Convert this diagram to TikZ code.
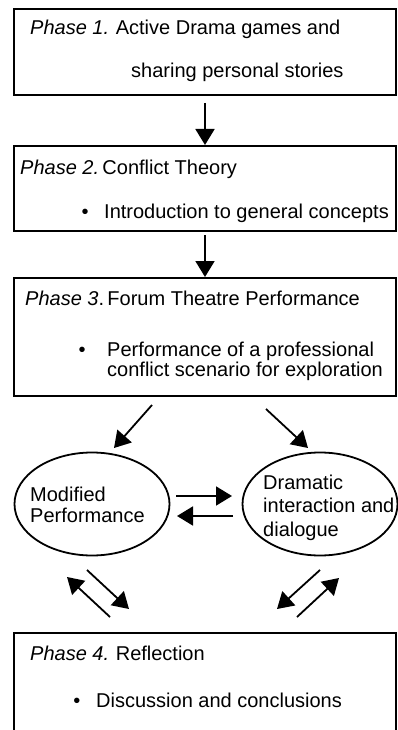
\documentclass[tikz,border=0pt]{standalone}
\usepackage{fontspec}
\setmainfont{Liberation Sans}
\usetikzlibrary{arrows.meta,shapes.geometric}
\tikzset{
  phasebox/.style={draw, line width=1.8pt, minimum width=382pt, anchor=north west, outer sep=0pt, inner sep=0pt},
  loopnode/.style={draw, ellipse, line width=1.8pt, minimum width=155pt, minimum height=103pt, inner sep=0pt},
  txt/.style={anchor=base west, inner sep=0pt},
  dot/.style={anchor=base, inner sep=0pt},
  flow/.style={-{Triangle[length=16pt,width=19pt]}, line width=1.8pt},
}

\begin{document}
\begin{tikzpicture}[x=1pt, y=-1pt, every node/.style={font=\fontsize{20}{23}\selectfont}]
  \useasboundingbox (0,0) rectangle (398,730);
  \clip (0,0) rectangle (398,730);

  % phases
  \node[phasebox, minimum height=86pt] (p1) at (14,9) {};
  \node[phasebox, minimum height=85pt] (p2) at (14,146) {};
  \node[phasebox, minimum height=118pt] (p3) at (14,278) {};
  \node[phasebox, minimum height=110pt] (p4) at (14,633) {};

  \node[txt] (t1a) at (30,35) {\textit{Phase 1.}\,\,Active Drama games and};
  \node[txt] (t1b) at (131,78) {sharing personal stories};
  \node[txt] (t2a) at (20,175) {\textit{Phase 2.}\,Conflict Theory};
  \node[dot] (b2) at (85,218) {\textbullet};
  \node[txt] (t2b) at (104,218) {Introduction to general concepts};
  \node[txt] (t3a) at (25,305) {\textit{Phase 3}.\,Forum Theatre Performance};
  \node[dot] (b3) at (82,356) {\textbullet};
  \node[txt] (t3b) at (107,356) {Performance of a professional};
  \node[txt] (t3c) at (107,376) {conflict scenario for exploration};
  \node[txt] (t4a) at (30,660) {\textit{Phase 4.}\,\,Reflection};
  \node[dot] (b4) at (77,707) {\textbullet};
  \node[txt] (t4b) at (96,707) {Discussion and conclusions};

  % loop between the two ellipses
  \node[loopnode] (mod) at (92,504) {};
  \node[loopnode] (dram) at (320,504) {};
  \node[txt] (modtxt) at (30,501) {Modified};
  \node[txt] (modtxt2) at (30,522) {Performance};
  \node[txt] (dramtxt) at (263,489) {Dramatic};
  \node[txt] (dramtxt2) at (263,512) {interaction and};
  \node[txt] (dramtxt3) at (263,536) {dialogue};

  \draw[flow, shorten <=8pt, shorten >=1pt] (p1) -- (p2);
  \draw[flow, shorten <=4pt, shorten >=1pt] (p2) -- (p3);

  \coordinate (a1) at (152,405);  \coordinate (m1) at (114,448);
  \coordinate (a2) at (266,409);  \coordinate (m2) at (308,448);
  \draw[flow] (a1) -- (m1);
  \draw[flow] (a2) -- (m2);

  \coordinate (h1) at (176,496);  \coordinate (h1e) at (232,496);
  \coordinate (h2) at (233,516);  \coordinate (h2e) at (177,516);
  \draw[flow] (h1) -- (h1e);
  \draw[flow] (h2) -- (h2e);

  \coordinate (l1) at (87,570);   \coordinate (l1e) at (129,609);
  \coordinate (l2) at (110,617);  \coordinate (l2e) at (67,577);
  \coordinate (r1) at (320,570);  \coordinate (r1e) at (277,609);
  \coordinate (r2) at (297,617);  \coordinate (r2e) at (339,578);
  \draw[flow] (l1) -- (l1e);
  \draw[flow] (l2) -- (l2e);
  \draw[flow] (r1) -- (r1e);
  \draw[flow] (r2) -- (r2e);
\end{tikzpicture}
\end{document}
